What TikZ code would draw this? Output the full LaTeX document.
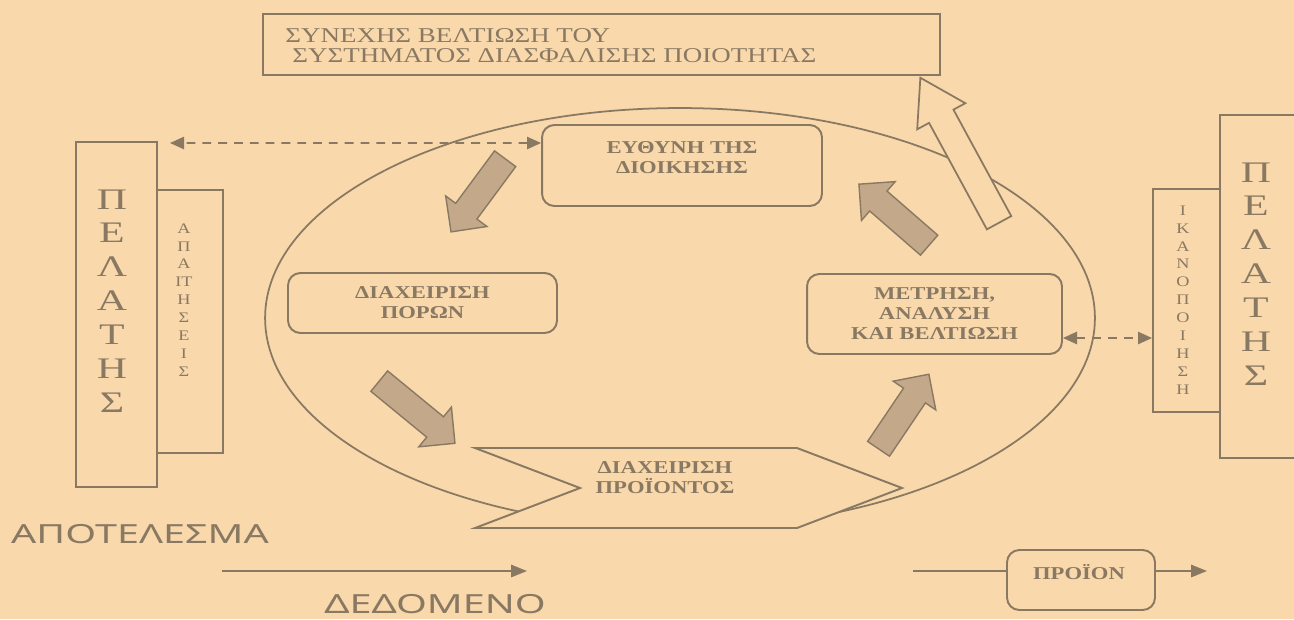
\documentclass[tikz,border=0pt]{standalone}
\usepackage{fontspec}
\setmainfont{Liberation Serif}[FakeStretch=1.25]
\newfontfamily\headfont{Liberation Serif}[FakeStretch=1.28]
\newfontfamily\widefont{Liberation Serif}[FakeStretch=1.4]
\newfontfamily\gothic{Noto Sans}[FakeStretch=1.5]
\usetikzlibrary{shapes.geometric}
\usetikzlibrary{shapes.arrows}
\usetikzlibrary{arrows.meta}
\definecolor{paper}{HTML}{F9D8AC}
\definecolor{ink}{HTML}{8A7962}
\definecolor{arrowfill}{HTML}{C3A98A}
\tikzset{
    box/.style = {rectangle, draw=ink, line width=1.1pt, inner sep=0pt},
    roundbox/.style = {rectangle, rounded corners=7pt, draw=ink, line width=1.1pt, fill=paper, inner sep=0pt},
    boxtext/.style = {text=ink, align=center, inner sep=0pt, font=\fontsize{10.3}{11.4}\selectfont\bfseries},
    toptext/.style = {text=ink, align=left, inner sep=0pt, font=\headfont\fontsize{12}{11.4}\selectfont},
    bigletters/.style = {text=ink, align=center, inner sep=0pt, font=\widefont\fontsize{17}{19.3}\selectfont},
    smallletters/.style = {text=ink, align=center, inner sep=0pt, font=\fontsize{8.3}{10.2}\selectfont},
    sanslabel/.style = {text=ink, inner sep=0pt, font=\gothic\fontsize{15}{15}\selectfont},
    flowarrow/.style = {single arrow, draw=ink, fill=arrowfill, line width=0.8pt, inner xsep=0pt, inner ysep=0.25cm,
        single arrow head extend=0.25cm, minimum height=#1},
    hollowarrow/.style = {single arrow, draw=ink, fill=paper, line width=1pt, inner xsep=0pt, inner ysep=0.26cm,
        single arrow head extend=0.27cm, single arrow tip angle=64, minimum height=#1},
    dasharrow/.style = {{Triangle[length=8pt,width=7pt]}-{Triangle[length=8pt,width=7pt]}, draw=ink, line width=1pt, dash pattern=on 5pt off 4pt},
    linearrow/.style = {-{Triangle[length=9pt,width=7pt]}, draw=ink, line width=1pt}
}

\begin{document}
\begin{tikzpicture}[x=0.02cm, y=-0.02cm]
\fill[paper] (0,0) rectangle (1294,619);
\useasboundingbox (0,0) rectangle (1294,619);
% outer loop
\node[ellipse, draw=ink, line width=1pt, minimum width=16.6cm, minimum height=8.4cm, inner sep=0pt] (orbit) at (680,318) {};
% top box
\node[box, minimum width=13.54cm, minimum height=1.22cm] (improve) at (601.5,44.5) {};
\node[toptext, anchor=west] (improvetxt) at (285,46) {ΣΥΝΕΧΗΣ ΒΕΛΤΙΩΣΗ ΤΟΥ\\\hspace*{4pt}ΣΥΣΤΗΜΑΤΟΣ ΔΙΑΣΦΑΛΙΣΗΣ ΠΟΙΟΤΗΤΑΣ};
% customers left
\node[box, minimum width=1.62cm, minimum height=6.9cm] (custL) at (116.5,314.5) {};
\node[bigletters] at (112,301) {Π\\Ε\\Λ\\Α\\Τ\\Η\\Σ};
\node[box, minimum width=1.32cm, minimum height=5.26cm] (needs) at (190,321.5) {};
\node[smallletters] at (184,300) {Α\\Π\\Α\\ΙΤ\\Η\\Σ\\Ε\\Ι\\Σ};
% customers right
\node[box, minimum width=1.6cm, minimum height=6.86cm] (custR) at (1260,286.5) {};
\node[bigletters] at (1256,274) {Π\\Ε\\Λ\\Α\\Τ\\Η\\Σ};
\node[box, minimum width=1.34cm, minimum height=4.46cm] (sat) at (1186.5,300.5) {};
\node[smallletters] at (1183,300) {Ι\\Κ\\Α\\Ν\\Ο\\Π\\Ο\\Ι\\Η\\Σ\\Η};
% process boxes
\node[roundbox, minimum width=5.6cm, minimum height=1.62cm] (duty) at (682,165.5) {};
\node[boxtext] at (682,157.5) {ΕΥΘΥΝΗ ΤΗΣ\\ΔΙΟΙΚΗΣΗΣ};
\node[roundbox, boxtext, minimum width=5.38cm, minimum height=1.2cm] (res) at (422.5,303) {ΔΙΑΧΕΙΡΙΣΗ\\ΠΟΡΩΝ};
\node[roundbox, boxtext, minimum width=5.1cm, minimum height=1.6cm] (meas) at (934.5,314) {ΜΕΤΡΗΣΗ,\\ΑΝΑΛΥΣΗ\\ΚΑΙ ΒΕΛΤΙΩΣΗ};
\draw[draw=ink, line width=1.1pt, fill=paper] (475,448) -- (797,448) -- (902,488) -- (797,528) -- (475,528) -- (580,488) -- cycle;
\node[boxtext] (prodtxt) at (665,478) {ΔΙΑΧΕΙΡΙΣΗ\\ΠΡΟΪΟΝΤΟΣ};
% cycle arrows
\node[flowarrow=1.82cm, rotate=-126.5] (a1) at (482,190) {};
\node[flowarrow=1.96cm, rotate=-39.4] (a2) at (412,408) {};
\node[flowarrow=1.8cm, rotate=56] (a3) at (900,417) {};
\node[flowarrow=1.86cm, rotate=139] (a4) at (899,219) {};
\node[hollowarrow=3.3cm, rotate=118.5] (a5) at (965,160) {};
% feedback
\coordinate (tipL) at (170,143);
\draw[dasharrow] ([yshift=0.45cm]duty.west) -- (tipL);
\draw[dasharrow] ([yshift=-0.48cm]meas.east) -- ([yshift=-0.48cm]meas.east -| sat.west);
% legend
\node[sanslabel] (result) at (140,534) {ΑΠΟΤΕΛΕΣΜΑ};
\node[sanslabel] (given) at (435,604) {ΔΕΔΟΜΕΝΟ};
\coordinate (givenA) at (222,571);
\coordinate (givenB) at (527,571);
\draw[linearrow] (givenA) -- (givenB);
\node[roundbox, minimum width=2.96cm, minimum height=1.2cm] (prod) at (1081,580) {};
\node[boxtext] at (1079,572) {ΠΡΟΪΟΝ};
\coordinate (prodA) at (913,571);
\coordinate (prodB) at (1207,571);
\draw[draw=ink, line width=1pt] (prodA) -- (prodA -| prod.west);
\draw[linearrow] (prodB -| prod.east) -- (prodB);
\end{tikzpicture}
\end{document}
